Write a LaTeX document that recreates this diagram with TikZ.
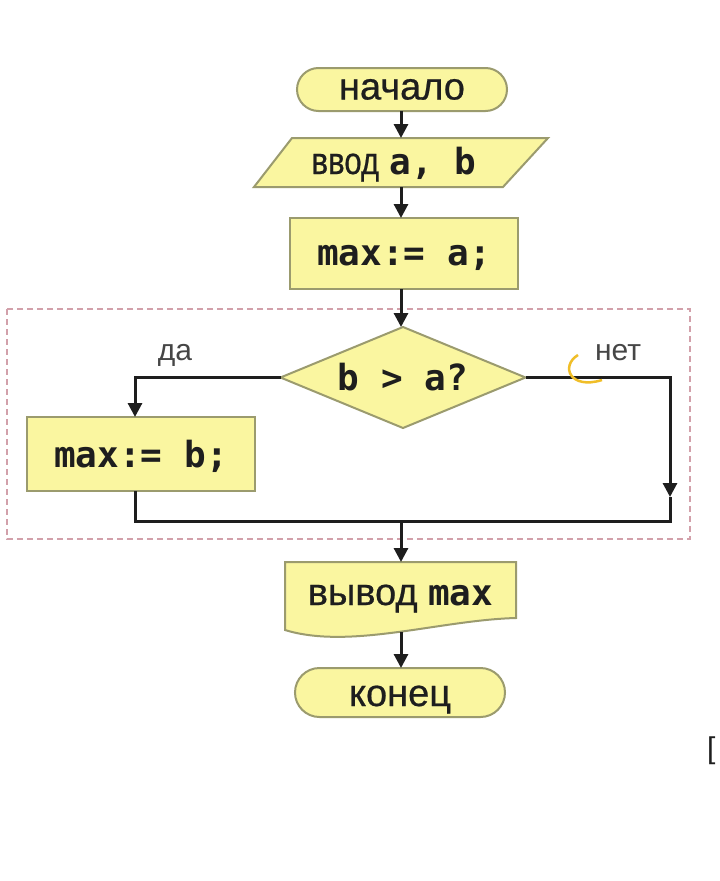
\documentclass[tikz,border=0pt]{standalone}
\usepackage{fontspec}
\usepackage{graphicx}
\setmainfont{Liberation Sans}[FakeBold=0.6]
\newfontfamily\labelfont{Liberation Sans}
\newfontfamily\codefont{DejaVu Sans Mono}
\usetikzlibrary{arrows.meta,calc,backgrounds}
\definecolor{boxfill}{RGB}{250,246,160}
\definecolor{boxdraw}{RGB}{155,155,110}
\definecolor{ink}{RGB}{30,30,30}
\definecolor{labelgray}{RGB}{70,70,70}
\definecolor{dashcol}{RGB}{210,160,170}
\definecolor{marker}{RGB}{240,190,40}
\newcommand{\bigtxt}{\fontsize{38}{44}\selectfont}
\newcommand{\smalltxt}{\labelfont\fontsize{30}{36}\selectfont}
\newcommand{\code}[1]{{\codefont\bfseries\fontsize{36}{44}\selectfont #1}}
\begin{document}
\begin{tikzpicture}[x=1pt,y=-1pt,
  flow/.style={line width=3pt, draw=ink},
  arr/.style={flow, -{Triangle[length=14pt,width=14pt]}},
  shapebox/.style={fill=boxfill, draw=boxdraw, line width=2pt},
  txt/.style={inner sep=0pt, outer sep=0pt, text=ink, font=\bigtxt, text depth=0pt},
]
\useasboundingbox (0,0) rectangle (720,881);

% column and helper coordinates
\coordinate (col) at (401,0);
\coordinate (lx) at (135,0);
\coordinate (rarr) at (670,497);
\coordinate (rcorner) at (670,521);
\coordinate (lcorner) at (135,521);
\coordinate (jn) at (401,521);

% nodes
\node[txt, text height=20pt, shapebox, rectangle, rounded corners=21.5pt, minimum width=210pt, minimum height=43pt] (start) at (402,89.5) {начало};
\node[txt, text height=23pt, minimum width=200pt, minimum height=49pt] (inp) at (394,162.5) {\scalebox{0.82}[1]{ввод} \code{a, b}};
\node[txt, text height=23pt, shapebox, rectangle, minimum width=228pt, minimum height=71pt] (asg1) at (404,253.5) {\code{max:= a;}};
\node[txt, text height=25pt, minimum width=245pt, minimum height=101pt] (dia) at (403,377.5) {\code{b > a?}};
\node[txt, text height=26pt, shapebox, rectangle, minimum width=228pt, minimum height=74pt] (asg2) at (141,454) {\code{max:= b;}};
\node[txt, text height=18pt, minimum width=231pt, minimum height=68pt] (out) at (400.5,596) {вывод \code{max}};
\node[txt, text height=27pt, shapebox, rectangle, rounded corners=24.5pt, minimum width=210pt, minimum height=49pt] (stop) at (400,692.5) {конец};

\node[txt, font=\smalltxt, text=labelgray] (yes) at (175,352) {да};
\node[txt, font=\smalltxt, text=labelgray] (no) at (618,352) {нет};
\node[txt, font=\smalltxt, anchor=west] (brk) at (707,748) {[};

% background shapes
\begin{scope}[on background layer]
  \fill[white] (0,0) rectangle (720,881);
  \draw[shapebox] (292,138) -- (548,138) -- (503,187) -- (254,187) -- cycle;
  \draw[shapebox] (dia.west) -- (dia.north) -- (dia.east) -- (dia.south) -- cycle;
  \draw[shapebox] (out.south west) -- (out.north west) -- (out.north east) -- ($(out.south east)+(0,-12)$)
     .. controls (440,620) and (350,650) .. (out.south west) -- cycle;
  \draw[dashcol, line width=1.5pt, dash pattern=on 6pt off 4pt] (7,309) rectangle (690,539);
\end{scope}

% connectors
\draw[arr] (col |- start.south) -- (col |- inp.north);
\draw[arr] (col |- inp.south) -- (col |- asg1.north);
\draw[arr] (col |- asg1.south) -- (col |- dia.north);
\draw[arr] (dia.west) -| (lx |- asg2.north);
\draw[arr] (dia.east) -| (rarr);
\draw[flow] (rarr) -- (rcorner) -- (lcorner) -- (lx |- asg2.south);
\draw[arr] (jn) -- (col |- out.north);
\draw[arr] ($(col |- out.south)+(0,2)$) -- (col |- stop.north);

% stray marker arc
\draw[marker, line width=2.5pt] (578,355) .. controls (560,366) and (570,390) .. (602,380);
\end{tikzpicture}
\end{document}
